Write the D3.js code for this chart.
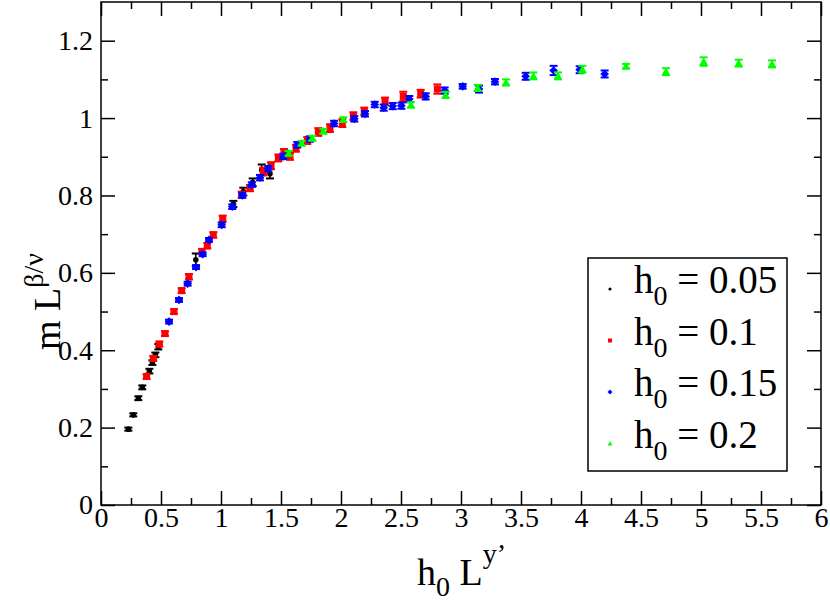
<!DOCTYPE html>
<html>
<head>
<meta charset="utf-8">
<script src="https://cdn.jsdelivr.net/npm/d3@7"></script>
<style>
body { margin: 0; background: #fff; }
svg text { font-family: "Liberation Serif", "Times New Roman", Times, "DejaVu Serif", serif !important; }
.domain { display: none; }
.tick line { stroke: #000; stroke-width: 1.5; }
</style>
</head>
<body>
<svg id="chart" width="830" height="603"></svg>
<script>
// Data: x = h0 L^y', y = m L^(beta/nu), e = error
var h005_x = [0.228, 0.269, 0.311, 0.344, 0.403, 0.428, 0.453, 0.478, 0.79, 1.103, 1.186, 1.264, 1.339, 1.408];
var h005_y = [0.196, 0.233, 0.276, 0.304, 0.346, 0.368, 0.388, 0.409, 0.634, 0.778, 0.81, 0.834, 0.866, 0.856];
var h005_e = [0.004, 0.004, 0.005, 0.005, 0.006, 0.006, 0.006, 0.007, 0.016, 0.008, 0.01, 0.01, 0.014, 0.012];

var h01_x = [0.38, 0.436, 0.486, 0.533, 0.608, 0.672, 0.733, 0.842, 0.886, 0.936, 1.014, 1.172, 1.242,
             1.353, 1.417, 1.478, 1.525, 1.575, 1.625, 1.719, 1.811, 1.908, 2.011, 2.103, 2.194, 2.367,
             2.519, 2.664, 2.803];
var h01_y = [0.332, 0.379, 0.416, 0.443, 0.5, 0.554, 0.59, 0.655, 0.67, 0.698, 0.74, 0.802, 0.819,
             0.862, 0.877, 0.897, 0.911, 0.901, 0.922, 0.942, 0.964, 0.974, 0.987, 1.005, 1.017, 1.043,
             1.056, 1.063, 1.075];
var h01_e = [0.006, 0.006, 0.006, 0.006, 0.006, 0.006, 0.007, 0.007, 0.007, 0.007, 0.008, 0.008, 0.008,
             0.01, 0.009, 0.009, 0.009, 0.009, 0.009, 0.009, 0.01, 0.01, 0.01, 0.01, 0.01, 0.01,
             0.012, 0.01, 0.012];

var h015_x = [0.567, 0.65, 0.722, 0.792, 0.847, 0.9, 1.006, 1.094, 1.178, 1.256, 1.325, 1.394, 1.519,
              1.636, 1.742, 1.942, 2.111, 2.2, 2.281, 2.356, 2.431, 2.503, 2.569, 2.706, 2.864, 3.014,
              3.15, 3.283, 3.539, 3.772, 3.989, 4.197];
var h015_y = [0.474, 0.53, 0.572, 0.615, 0.648, 0.685, 0.724, 0.771, 0.8, 0.828, 0.846, 0.869, 0.901,
              0.931, 0.946, 0.986, 0.998, 1.011, 1.035, 1.027, 1.031, 1.032, 1.049, 1.056, 1.071, 1.082,
              1.075, 1.094, 1.108, 1.123, 1.125, 1.114];
var h015_e = [0.005, 0.005, 0.005, 0.005, 0.005, 0.005, 0.006, 0.006, 0.006, 0.006, 0.007, 0.007, 0.007,
              0.007, 0.007, 0.007, 0.007, 0.007, 0.007, 0.008, 0.008, 0.008, 0.008, 0.008, 0.008, 0.006,
              0.009, 0.007, 0.009, 0.012, 0.009, 0.009];

var h02_x = [1.564, 1.672, 1.761, 1.853, 2.019, 2.583, 2.872, 3.139, 3.375, 3.603, 3.808, 4.011, 4.375,
             4.708, 5.022, 5.314, 5.592];
var h02_y = [0.909, 0.935, 0.948, 0.966, 0.996, 1.034, 1.06, 1.078, 1.092, 1.109, 1.109, 1.126, 1.134,
             1.12, 1.146, 1.142, 1.14];
var h02_e = [0.006, 0.006, 0.006, 0.006, 0.006, 0.007, 0.008, 0.008, 0.008, 0.009, 0.009, 0.009, 0.006,
             0.009, 0.011, 0.009, 0.009];

var legend_labels = ["0.05", "0.1", "0.15", "0.2"];
var x_ticks = [0, 0.5, 1, 1.5, 2, 2.5, 3, 3.5, 4, 4.5, 5, 5.5, 6];
var y_ticks = [0, 0.2, 0.4, 0.6, 0.8, 1, 1.2];

var series = [
    {x: h005_x, y: h005_y, e: h005_e, color: "#000000", sym: "circle"},
    {x: h01_x, y: h01_y, e: h01_e, color: "#ff0000", sym: "square"},
    {x: h015_x, y: h015_y, e: h015_e, color: "#0000ff", sym: "diamond"},
    {x: h02_x, y: h02_y, e: h02_e, color: "#00ff00", sym: "triangle"}
];

var FONT = "'Liberation Serif', 'Times New Roman', Times, 'DejaVu Serif', serif";

var svg = d3.select("#chart");

var PLOT_L = 101, PLOT_R = 821, PLOT_T = 2, PLOT_B = 505;

var x = d3.scaleLinear().domain([0, 6]).range([PLOT_L, PLOT_R]);
var y = d3.scaleLinear().domain([0, 1.3]).range([PLOT_B, PLOT_T]);

var x_minor = d3.range(0.25, 6, 0.5);
var y_minor = d3.range(0.1, 1.3, 0.2);

// Major + minor ticks on all four sides, pointing inward
function drawAxis(axisFn, scale, ticks, size, transform, labels, pad) {
    var g = svg.append("g").attr("transform", transform)
            .call(axisFn(scale).tickValues(ticks).tickSize(size)
                    .tickPadding(pad)
                    .tickFormat(labels ? d3.format("") : ""));
    g.attr("font-family", FONT).attr("font-size", 28);
    g.selectAll("text").attr("fill", "#000");
    return g;
}

drawAxis(d3.axisBottom, x, x_ticks, -14, "translate(0," + PLOT_B + ")", true, 2);
drawAxis(d3.axisBottom, x, x_minor, -7, "translate(0," + PLOT_B + ")", false, 2);
drawAxis(d3.axisTop, x, x_ticks, -14, "translate(0," + PLOT_T + ")", false, 2);
drawAxis(d3.axisTop, x, x_minor, -7, "translate(0," + PLOT_T + ")", false, 2);
drawAxis(d3.axisLeft, y, y_ticks, -14, "translate(" + PLOT_L + ",0)", true, 8);
drawAxis(d3.axisLeft, y, y_minor, -7, "translate(" + PLOT_L + ",0)", false, 8);
drawAxis(d3.axisRight, y, y_ticks, -14, "translate(" + PLOT_R + ",0)", false, 8);
drawAxis(d3.axisRight, y, y_minor, -7, "translate(" + PLOT_R + ",0)", false, 8);

// frame
svg.append("rect")
        .attr("x", PLOT_L).attr("y", PLOT_T)
        .attr("width", PLOT_R - PLOT_L).attr("height", PLOT_B - PLOT_T)
        .attr("fill", "none").attr("stroke", "#000").attr("stroke-width", 1.5);

// Symbol shapes
function drawSymbol(g, sym, cx, cy, s, color) {
    if (sym === "circle") {
        g.append("circle").attr("cx", cx).attr("cy", cy).attr("r", s * 0.4).attr("fill", color);
    } else if (sym === "square") {
        g.append("rect").attr("x", cx - s / 2).attr("y", cy - s / 2)
                .attr("width", s).attr("height", s).attr("fill", color);
    } else if (sym === "diamond") {
        var d = s * 0.62;
        g.append("path").attr("d", "M" + cx + "," + (cy - d) + "L" + (cx + d) + "," + cy +
                "L" + cx + "," + (cy + d) + "L" + (cx - d) + "," + cy + "Z").attr("fill", color);
    } else {
        var t = s * 0.6;
        g.append("path").attr("d", "M" + cx + "," + (cy - t) + "L" + (cx + t) + "," + (cy + t * 0.8) +
                "L" + (cx - t) + "," + (cy + t * 0.8) + "Z").attr("fill", color);
    }
}

var CAP = 4;
var SYM_SIZE = 7;

series.forEach(function (s) {
    var g = svg.append("g");
    for (var i = 0; i < s.x.length; i++) {
        var px = x(s.x[i]);
        var y1 = y(s.y[i] + s.e[i]);
        var y2 = y(s.y[i] - s.e[i]);
        g.append("line").attr("x1", px).attr("x2", px).attr("y1", y1).attr("y2", y2)
                .attr("stroke", s.color).attr("stroke-width", 1.5);
        [y1, y2].forEach(function (yy) {
            g.append("line").attr("x1", px - CAP).attr("x2", px + CAP)
                    .attr("y1", yy).attr("y2", yy)
                    .attr("stroke", s.color).attr("stroke-width", 2);
        });
        drawSymbol(g, s.sym, px, y(s.y[i]), SYM_SIZE, s.color);
    }
});

// Legend
var leg = svg.append("g");
leg.append("rect").attr("x", 588).attr("y", 258).attr("width", 199).attr("height", 213)
        .attr("fill", "#fff").attr("stroke", "#000").attr("stroke-width", 1.5);

series.forEach(function (s, i) {
    var by = 293 + i * 51.5;
    drawSymbol(leg, s.sym, 610, by - 4, 4, s.color);
    var t = leg.append("text").attr("x", 634).attr("y", by)
            .attr("font-family", FONT).attr("font-size", 39).attr("fill", "#000");
    t.append("tspan").text("h");
    t.append("tspan").attr("dy", 12).attr("font-size", 28).text("0");
    t.append("tspan").attr("dy", -12).text(" = " + legend_labels[i]);
});

// Axis titles
var xt = svg.append("text").attr("x", 417).attr("y", 585)
        .attr("font-family", FONT).attr("font-size", 38).attr("fill", "#000");
xt.append("tspan").text("h");
xt.append("tspan").attr("dy", 11).attr("font-size", 28).text("0");
xt.append("tspan").attr("dy", -11).text(" L");
xt.append("tspan").attr("dy", -22).attr("font-size", 28).text("y\u2019");

var yt = svg.append("text").attr("transform", "translate(60,350) rotate(-90)")
        .attr("font-family", FONT).attr("font-size", 38).attr("fill", "#000");
yt.append("tspan").text("m L");
yt.append("tspan").attr("dy", -17).attr("font-size", 28).text("\u03b2/\u03bd");
</script>
</body>
</html>
